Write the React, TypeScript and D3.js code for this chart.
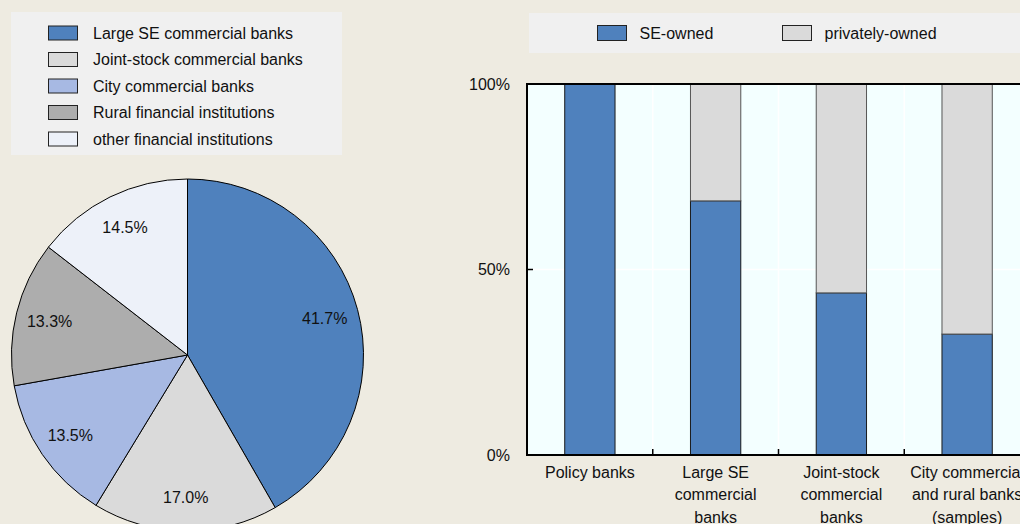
import React from "react";
import * as d3 from "d3";

const pieCategories = [
  "Large SE commercial banks",
  "Joint-stock commercial banks",
  "City commercial banks",
  "Rural financial institutions",
  "other financial institutions",
];
const pieValues = [41.7, 17.0, 13.5, 13.3, 14.5];
const pieColors = ["#4F81BD", "#DADADA", "#A7B9E3", "#ADADAD", "#EDF1F9"];

const barCategories = [
  ["Policy banks"],
  ["Large SE", "commercial", "banks"],
  ["Joint-stock", "commercial", "banks"],
  ["City commercial", "and rural banks", "(samples)"],
];
const seOwned = [100, 68.5, 43.7, 32.6];
const privatelyOwned = [0, 31.5, 56.3, 67.4];
const barSeries = ["SE-owned", "privately-owned"];
const barColors = ["#4F81BD", "#DADADA"];
const yTicks = [0, 50, 100];

const FONT = "'Liberation Sans', Arial, sans-serif";

export default function App() {
  const W = 1020;
  const H = 524;

  // pie
  const cx = 187.5;
  const cy = 355;
  const R = 176;
  const arcs = d3.pie<number>().sort(null).value((d) => d)(pieValues);
  const arcGen = d3.arc<d3.PieArcDatum<number>>().innerRadius(0).outerRadius(R);
  const labelArc = d3.arc<d3.PieArcDatum<number>>().innerRadius(142).outerRadius(142);

  // bars
  const plotL = 527;
  const plotR = 1030;
  const plotT = 84;
  const plotB = 455;
  const ids = barCategories.map((_, i) => String(i));
  const x = d3.scaleBand<string>().domain(ids).range([plotL, plotR]).paddingInner(0.6).paddingOuter(0.3);
  const xb = d3.scaleBand<string>().domain(ids).range([plotL, plotR]).padding(0);
  const y = d3.scaleLinear().domain([0, 100]).range([plotB, plotT]);
  const stacked = d3.stack<any>().keys(["se", "pr"])(
    seOwned.map((v, i) => ({ se: v, pr: privatelyOwned[i] }))
  );

  return (
    <svg
      width={W}
      height={H}
      style={{ position: "fixed", left: 0, top: 0, display: "block" }}
      fontFamily={FONT}
    >
      <rect x={0} y={0} width={W} height={H} fill="#EEEBE1" />

      {/* Left legend */}
      <rect x={11} y={12} width={331} height={143} fill="#F0F0F0" />
      {pieCategories.map((c, i) => {
        const yc = 33 + i * 26.5;
        return (
          <g key={c}>
            <rect x={48.5} y={yc - 7} width={29} height={14} fill={pieColors[i]} stroke="#222" strokeWidth={1} />
            <text x={93} y={yc} dy="0.36em" fontSize={16} fill="#111">
              {c}
            </text>
          </g>
        );
      })}

      {/* Pie */}
      <g transform={`translate(${cx},${cy})`}>
        {arcs.map((a, i) => (
          <path key={i} d={arcGen(a) || ""} fill={pieColors[i]} stroke="#000" strokeWidth={1} />
        ))}
        {arcs.map((a, i) => {
          const [lx, ly] = labelArc.centroid(a);
          return (
            <text key={"l" + i} x={lx} y={ly} dy="0.36em" textAnchor="middle" fontSize={16} fill="#111">
              {pieValues[i].toFixed(1)}%
            </text>
          );
        })}
      </g>

      {/* Right legend */}
      <rect x={529} y={13} width={W - 529} height={40} fill="#F0F0F0" />
      {barSeries.map((s, i) => {
        const sx = i === 0 ? 597.5 : 782.5;
        return (
          <g key={s}>
            <rect x={sx} y={25.5} width={29} height={15} fill={barColors[i]} stroke="#222" strokeWidth={1} />
            <text x={sx + 42} y={33} dy="0.36em" fontSize={16} fill="#111">
              {s}
            </text>
          </g>
        );
      })}

      {/* Plot area */}
      <rect x={plotL} y={plotT} width={plotR - plotL} height={plotB - plotT} fill="#F3FFFF" />
      {/* white gridlines */}
      <line x1={plotL} x2={plotR} y1={y(50)} y2={y(50)} stroke="#FFFFFF" strokeWidth={1.5} />
      {ids.slice(1).map((id) => (
        <line key={"g" + id} x1={xb(id)!} x2={xb(id)!} y1={plotT} y2={plotB} stroke="#FFFFFF" strokeWidth={1.5} />
      ))}

      {/* Bars */}
      {stacked.map((layer, si) =>
        layer.map((d, i) => {
          const h = y(d[0]) - y(d[1]);
          if (h <= 0) return null;
          return (
            <rect
              key={si + "-" + i}
              x={x(ids[i])!}
              y={y(d[1])}
              width={x.bandwidth()}
              height={h}
              fill={barColors[si]}
              stroke={si === 0 ? "#1a1a1a" : "#555"}
              strokeWidth={1}
            />
          );
        })
      )}

      {/* Frame / axes */}
      <line x1={plotL} x2={plotR} y1={plotT} y2={plotT} stroke="#000" strokeWidth={2} />
      <line x1={plotL} x2={plotR} y1={plotB} y2={plotB} stroke="#000" strokeWidth={2} />
      <line x1={plotL} x2={plotL} y1={plotT - 1} y2={plotB + 1} stroke="#000" strokeWidth={2} />
      <line x1={plotR} x2={plotR} y1={plotT} y2={plotB} stroke="#000" strokeWidth={2} />
      {yTicks.map((t) => (
        <g key={"yt" + t}>
          <line x1={plotL} x2={plotL + 6} y1={y(t)} y2={y(t)} stroke="#000" strokeWidth={1.5} />
          <text x={510} y={y(t)} dy="0.36em" textAnchor="end" fontSize={16} fill="#111">
            {t}%
          </text>
        </g>
      ))}
      {ids.slice(1).map((id) => (
        <line key={"xt" + id} x1={xb(id)!} x2={xb(id)!} y1={plotB} y2={plotB - 6} stroke="#000" strokeWidth={1.5} />
      ))}
      {barCategories.map((lines, i) => (
        <text key={"xl" + i} x={x(ids[i])! + x.bandwidth() / 2} y={472} textAnchor="middle" fontSize={16} fill="#111">
          {lines.map((ln, j) => (
            <tspan key={j} x={x(ids[i])! + x.bandwidth() / 2} y={472 + j * 22.5} dy="0.36em">
              {ln}
            </tspan>
          ))}
        </text>
      ))}
    </svg>
  );
}
